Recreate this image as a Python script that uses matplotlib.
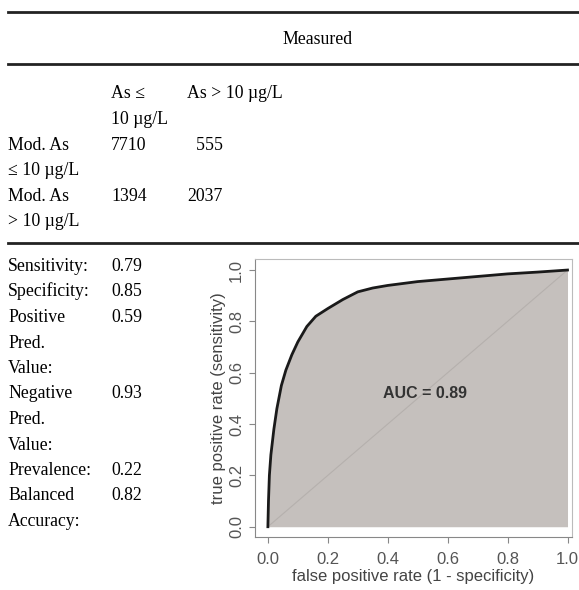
import numpy as np
import matplotlib.pyplot as plt

# confusion table
col_heads = ["As \u2264\n10 \u00b5g/L", "As > 10 \u00b5g/L"]
row_heads = ["Mod. As\n\u2264 10 \u00b5g/L", "Mod. As\n> 10 \u00b5g/L"]
counts = [["7710", "  555"], ["1394", "2037"]]

# summary statistics
stat_names = ["Sensitivity:", "Specificity:", "Positive\nPred.\nValue:",
              "Negative\nPred.\nValue:", "Prevalence:", "Balanced\nAccuracy:"]
stat_values = ["0.79", "0.85", "0.59", "0.93", "0.22", "0.82"]

# ROC curve
fpr = [0, 0.002, 0.005, 0.01, 0.02, 0.03, 0.045, 0.06, 0.08, 0.1, 0.13, 0.16,
       0.2, 0.25, 0.3, 0.35, 0.4, 0.5, 0.6, 0.7, 0.8, 0.9, 1.0]
tpr = [0, 0.1, 0.2, 0.28, 0.38, 0.46, 0.55, 0.61, 0.67, 0.72, 0.78, 0.82,
       0.85, 0.885, 0.915, 0.93, 0.94, 0.955, 0.965, 0.975, 0.985, 0.992, 1.0]
auc = 0.89

W, H = 579, 590
fig = plt.figure(figsize=(W / 100, H / 100), dpi=100)
serif = ["Liberation Serif", "DejaVu Serif"]
sans = ["Liberation Sans", "DejaVu Sans"]
fs = 12.8
dy = 25.5


def put(x, y, s, **kw):
    # x, y in pixels from top-left, y is the baseline
    kw.setdefault("family", serif)
    kw.setdefault("fontsize", fs)
    fig.text(x / W, 1 - y / H, s, va="baseline", **kw)


def rule(y):
    fig.add_artist(plt.Line2D([8 / W, 1], [1 - y / H] * 2, color="#222", lw=2))


rule(12)
rule(64)
rule(243)

put(318, 44, "Measured", ha="center")
put(111, 98, col_heads[0].split("\n")[0])
put(111, 98 + dy, col_heads[0].split("\n")[1])
put(187, 98, col_heads[1])

for i, (rh, row) in enumerate(zip(row_heads, counts)):
    yb = 150 + i * 2 * dy
    a, b = rh.split("\n")
    put(8, yb, a)
    put(8, yb + dy, b)
    put(111, yb, row[0])
    put(187, yb, row[1])

yb = 271
for name, val in zip(stat_names, stat_values):
    put(111, yb, val)
    for ln in name.split("\n"):
        put(8, yb, ln)
        yb += dy

# ROC panel
ax = fig.add_axes([255 / W, 1 - 537 / H, 317 / W, 278 / H])
ax.fill_between(fpr, 0, tpr, color="#c5c0bd", lw=0)
ax.plot([0, 1], [0, 1], color="#b5b0ad", lw=0.8)
ax.plot(fpr, tpr, color="#1a1a1a", lw=2)
ax.text(0.523, 0.52, f"AUC = {auc:.2f}", ha="center", va="center",
        fontsize=11.5, fontweight="bold", family=sans, color="#333")
ax.set_xlim(-0.043, 1.015)
ax.set_ylim(-0.04, 1.043)
ticks = np.arange(0, 1.01, 0.2)
ax.set_xticks(ticks)
ax.set_yticks(ticks)
ax.set_xticklabels([f"{t:.1f}" for t in ticks], family=sans, fontsize=12, color="#555")
ax.set_yticklabels([f"{t:.1f}" for t in ticks], family=sans, fontsize=12, color="#555",
                   rotation=90, va="center")
ax.tick_params(length=4, color="#888", width=0.8)
ax.tick_params(axis="x", pad=7)
ax.tick_params(axis="y", pad=4)
ax.set_xlabel("false positive rate (1 - specificity)", family=sans, fontsize=12,
              color="#444", labelpad=1)
ax.set_ylabel("true positive rate (sensitivity)", family=sans, fontsize=12,
              color="#444", labelpad=2)
for s in ["left", "bottom"]:
    ax.spines[s].set_color("#888")
for s in ["top", "right"]:
    ax.spines[s].set_color("#bbb")

fig.savefig("out.png", dpi=100)
